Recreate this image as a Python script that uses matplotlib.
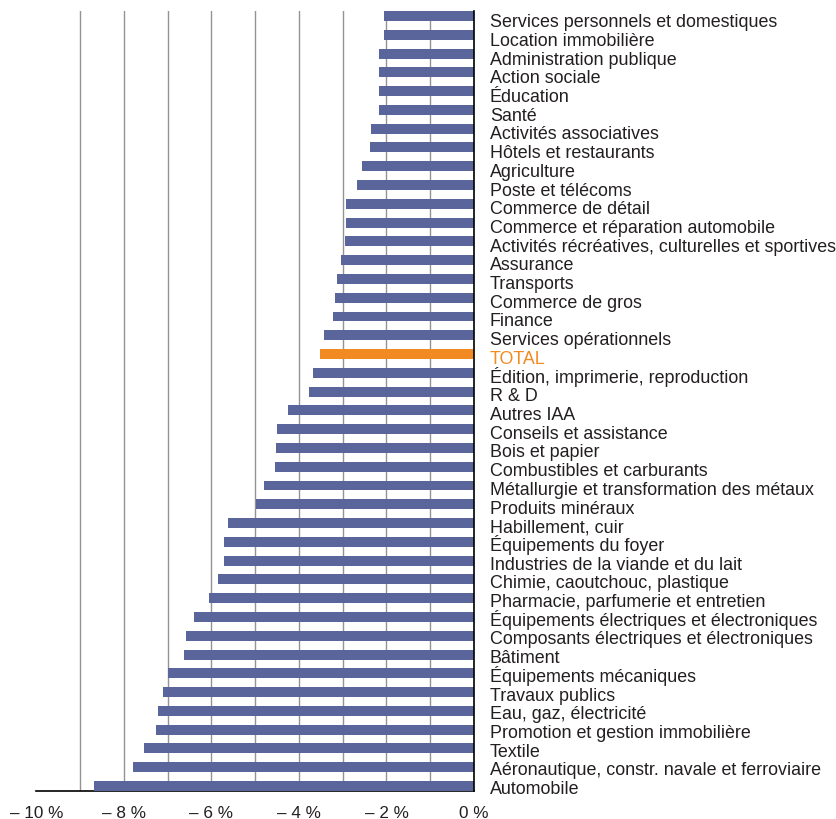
import matplotlib
matplotlib.use("Agg")
import matplotlib.pyplot as plt
import matplotlib.transforms as mtransforms

plt.rcParams['font.family'] = ['Liberation Sans', 'DejaVu Sans']

categories = [
    "Services personnels et domestiques", "Location immobilière", "Administration publique",
    "Action sociale", "Éducation", "Santé", "Activités associatives", "Hôtels et restaurants",
    "Agriculture", "Poste et télécoms", "Commerce de détail", "Commerce et réparation automobile",
    "Activités récréatives, culturelles et sportives", "Assurance", "Transports", "Commerce de gros",
    "Finance", "Services opérationnels", "TOTAL", "Édition, imprimerie, reproduction", "R & D",
    "Autres IAA", "Conseils et assistance", "Bois et papier", "Combustibles et carburants",
    "Métallurgie et transformation des métaux", "Produits minéraux", "Habillement, cuir",
    "Équipements du foyer", "Industries de la viande et du lait", "Chimie, caoutchouc, plastique",
    "Pharmacie, parfumerie et entretien", "Équipements électriques et électroniques",
    "Composants électriques et électroniques", "Bâtiment", "Équipements mécaniques",
    "Travaux publics", "Eau, gaz, électricité", "Promotion et gestion immobilière", "Textile",
    "Aéronautique, constr. navale et ferroviaire", "Automobile",
]
values = [
    -2.05, -2.05, -2.16, -2.16, -2.16, -2.16, -2.35, -2.37, -2.55, -2.67,
    -2.92, -2.92, -2.94, -3.05, -3.12, -3.17, -3.23, -3.42, -3.53, -3.69,
    -3.78, -4.26, -4.51, -4.53, -4.56, -4.81, -4.99, -5.63, -5.72, -5.72,
    -5.85, -6.06, -6.40, -6.58, -6.63, -6.99, -7.11, -7.22, -7.27, -7.54,
    -7.79, -8.68,
]
tick_values = [-10, -8, -6, -4, -2, 0]
tick_labels = ["\u2013 10 %", "\u2013 8 %", "\u2013 6 %", "\u2013 4 %", "\u2013 2 %", "0 %"]

bar_color = "#5a659b"
total_color = "#f28a24"
text_color = "#231f20"

fig = plt.figure(figsize=(8.37, 8.20), dpi=100)
ax = fig.add_axes([36.5/837, 1 - 792/820, (474 - 36.5)/837, (792 - 12)/820])

h = 0.53
ys = list(range(len(categories)))
colors = [total_color if c == "TOTAL" else bar_color for c in categories]
ax.barh(ys, values, height=h, color=colors, zorder=3)

ax.set_xlim(-10, 0)
ax.set_ylim(len(categories) - 1 + h/2, -h/2)

for g in range(-9, 0):
    ax.axvline(g, color="#939393", lw=1.0, zorder=1)

for s in ["top", "left"]:
    ax.spines[s].set_visible(False)
ax.spines["right"].set_color("black")
ax.spines["right"].set_linewidth(1.2)
ax.spines["right"].set_zorder(4)
ax.spines["bottom"].set_color("black")
ax.spines["bottom"].set_linewidth(1.2)

ax.set_yticks([])
n = len(categories)
base_tr = ax.get_yaxis_transform()
for i, (c, y) in enumerate(zip(categories, ys)):
    off = (10.3 - 3.3 * i / (n - 1)) / 100.0
    tr = base_tr + mtransforms.ScaledTranslation(16 / 100.0, -off, fig.dpi_scale_trans)
    ax.text(1.0, y, c, transform=tr, fontsize=12.9, ha="left", va="baseline",
            color=total_color if c == "TOTAL" else text_color, clip_on=False)

ax.set_xticks(tick_values)
ax.set_xticklabels(tick_labels, fontsize=12.3, color=text_color)
ax.tick_params(axis="x", length=0, pad=10)

fig.savefig("out.png", dpi=100)
